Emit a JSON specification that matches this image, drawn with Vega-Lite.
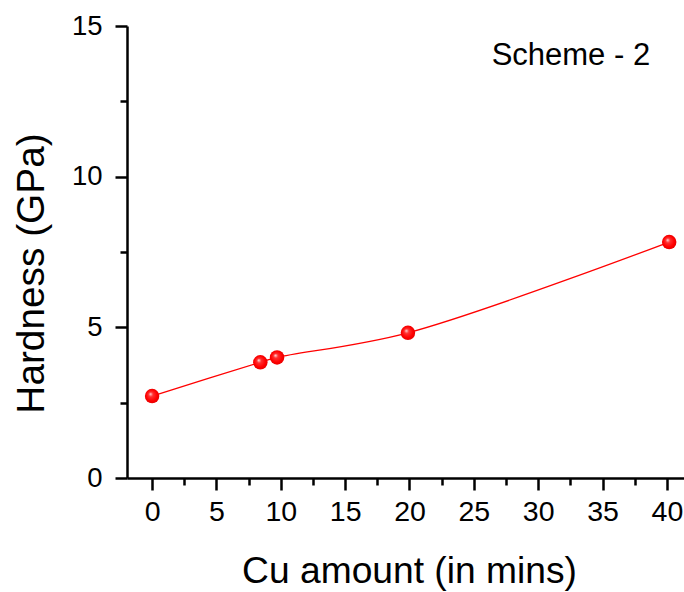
{
  "$schema": "https://vega.github.io/schema/vega-lite/v6.json",
  "autosize": "none",
  "width": 557,
  "height": 452,
  "padding": {"left": 127, "top": 26, "right": 0, "bottom": 114},
  "background": "white",
  "config": {
    "view": {"stroke": null},
    "font": "Liberation Sans",
    "axis": {"labelFont": "Liberation Sans", "titleFont": "Liberation Sans", "labelColor": "black", "titleColor": "black", "domainColor": "black", "tickColor": "black", "grid": false, "titleFontWeight": "normal"}
  },
  "datasets": {
    "pts": [
      {"time": 0, "hardness": 2.72},
      {"time": 8.41, "hardness": 3.84},
      {"time": 9.71, "hardness": 4.0},
      {"time": 19.88, "hardness": 4.82},
      {"time": 40.18, "hardness": 7.83}
    ],
    "note": [{"time": 32.54, "hardness": 13.71, "label": "Scheme - 2"}]
  },
  "layer": [
    {
      "data": {"name": "pts"},
      "mark": {"type": "line", "interpolate": "catmull-rom", "color": "#ff0000", "strokeWidth": 1.3},
      "encoding": {
        "x": {"field": "time", "type": "quantitative", "scale": {"domain": [-1.95, 41.33], "nice": false, "zero": false},
          "axis": {"values": [0, 5, 10, 15, 20, 25, 30, 35, 40], "title": "Cu amount (in mins)", "titleFontSize": 37.2, "titleBaseline": "alphabetic", "titleX": 282, "titleY": 104, "titleAnchor": "middle", "titleAlign": "center", "labelFontSize": 28.5, "labelPadding": 7, "tickSize": 12, "tickWidth": 2.5, "domainWidth": 2.5, "labelFlush": false, "labelOverlap": false}},
        "y": {"field": "hardness", "type": "quantitative", "scale": {"domain": [0, 15], "nice": false},
          "axis": {"values": [0, 5, 10, 15], "title": "Hardness (GPa)", "titleFontSize": 38.8, "titleBaseline": "alphabetic", "titleX": -84, "titleY": 247, "titleAngle": -90, "titleAlign": "center", "labelFontSize": 27.5, "labelPadding": 13, "tickSize": 12, "tickWidth": 2.5, "domainWidth": 2.5}}
      }
    },
    {
      "data": {"name": "pts"},
      "mark": {"type": "point", "shape": "circle", "filled": true, "size": 210, "opacity": 1,
        "fill": {"gradient": "radial", "x1": 0.38, "y1": 0.35, "r1": 0, "x2": 0.5, "y2": 0.5, "r2": 0.55,
          "stops": [{"offset": 0, "color": "#ffe6e6"}, {"offset": 0.28, "color": "#ff3030"}, {"offset": 0.7, "color": "#ff0000"}, {"offset": 1, "color": "#e00000"}]}},
      "encoding": {
        "x": {"field": "time", "type": "quantitative", "axis": null},
        "y": {"field": "hardness", "type": "quantitative", "axis": null}
      }
    },
    {
      "data": {"name": "pts"},
      "mark": {"type": "point", "opacity": 0},
      "encoding": {
        "x": {"field": "time", "type": "quantitative", "axis": {"orient": "bottom", "values": [2.5, 7.5, 12.5, 17.5, 22.5, 27.5, 32.5, 37.5], "labels": false, "domain": false, "title": null, "tickSize": 7, "tickWidth": 2.5}},
        "y": {"field": "hardness", "type": "quantitative", "axis": {"orient": "left", "values": [2.5, 7.5, 12.5], "labels": false, "domain": false, "title": null, "tickSize": 7, "tickWidth": 2.5}}
      }
    },
    {
      "mark": {"type": "rule", "color": "black", "strokeWidth": 2.5},
      "encoding": {
        "y": {"datum": 15, "type": "quantitative", "axis": null}
      }
    },
    {
      "data": {"name": "note"},
      "mark": {"type": "text", "fontSize": 31, "font": "Liberation Sans", "color": "black", "align": "center", "baseline": "alphabetic"},
      "encoding": {
        "x": {"field": "time", "type": "quantitative", "axis": null},
        "y": {"field": "hardness", "type": "quantitative", "axis": null},
        "text": {"field": "label"}
      }
    }
  ],
  "resolve": {"axis": {"x": "independent", "y": "independent"}}
}
